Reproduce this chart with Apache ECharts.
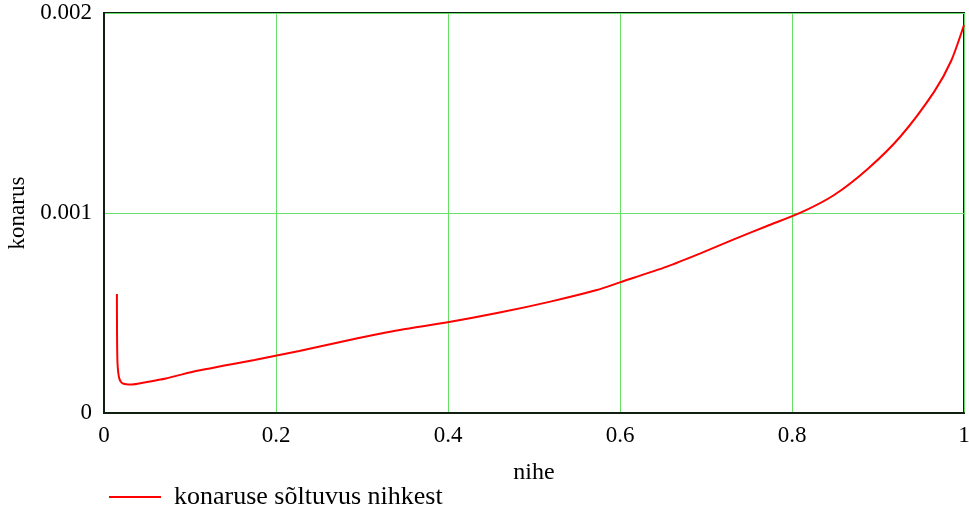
<!DOCTYPE html>
<html>
<head>
<meta charset="utf-8">
<script src="https://cdn.jsdelivr.net/npm/echarts@6/dist/echarts.min.js"></script>
<style>html,body{margin:0;padding:0;background:#fff}#c{width:969px;height:510px}</style>
</head>
<body>
<div id="c"></div>
<script>
const xValues = [0.015, 0.0151, 0.0153, 0.0157, 0.0165, 0.0175, 0.019, 0.021, 0.024, 0.028, 0.033, 0.045, 0.06, 0.072, 0.09, 0.11, 0.13, 0.15, 0.175, 0.198, 0.227, 0.2855, 0.344, 0.398, 0.46, 0.519, 0.573, 0.599, 0.6546, 0.6935, 0.7323, 0.771, 0.81, 0.849, 0.888, 0.9266, 0.9654, 0.985, 1.0];
const yValues = [0.000595, 0.00045, 0.00033, 0.00025, 0.000205, 0.000178, 0.00016, 0.00015, 0.000145, 0.000143, 0.000143, 0.000151, 0.000163, 0.000173, 0.000192, 0.000212, 0.000229, 0.000245, 0.000265, 0.000285, 0.00031, 0.000365, 0.000415, 0.000452, 0.000502, 0.000557, 0.000615, 0.000652, 0.000732, 0.000798, 0.000868, 0.000935, 0.0010015, 0.00109, 0.00122, 0.001385, 0.001607, 0.00176, 0.00194];
const xTicks = [0, 0.2, 0.4, 0.6, 0.8, 1];
const yTicks = [0, 0.001, 0.002];
const seriesName = 'konaruse sõltuvus nihkest';

const chart = echarts.init(document.getElementById('c'));
const font = 'Liberation Serif';
chart.setOption({
  animation: false,
  grid: { left: 104, top: 13, right: 5, bottom: 97, outerBoundsMode: 'none', containLabel: false, show: true, borderColor: '#102010', borderWidth: 2, backgroundColor: 'transparent' },
  legend: {
    left: 104, top: 479, itemWidth: 52, itemHeight: 2, itemGap: 10,
    textStyle: { fontFamily: font, fontSize: 26, color: '#000', padding: [0,0,0,8] },
    data: [{ name: seriesName, icon: 'rect', itemStyle: { color: '#ff0000' } }]
  },
  xAxis: {
    type: 'value', min: 0, max: 1, interval: 0.2,
    name: 'nihe', nameLocation: 'middle', nameGap: 48,
    nameTextStyle: { fontFamily: font, fontSize: 24, color: '#000' },
    axisLine: { show: true, lineStyle: { color: '#102010', width: 2 } },
    axisTick: { show: false },
    axisLabel: { fontFamily: font, fontSize: 23, color: '#000', margin: 11, formatter: v => String(+v.toFixed(1)) },
    splitLine: { show: true, lineStyle: { color: '#66e066', width: 1 } }
  },
  yAxis: {
    type: 'value', min: 0, max: 0.002, interval: 0.001,
    name: 'konarus', nameLocation: 'middle', nameGap: 70,
    nameTextStyle: { fontFamily: font, fontSize: 23, color: '#000' },
    axisLine: { show: true, lineStyle: { color: '#102010', width: 2 } },
    axisTick: { show: false },
    axisLabel: { fontFamily: font, fontSize: 23, color: '#000', margin: 12, formatter: v => v === 0 ? '0' : v.toFixed(3) },
    splitLine: { show: true, lineStyle: { color: '#66e066', width: 1 } }
  },
  series: [{
    name: seriesName, type: 'line', showSymbol: false, smooth: 0.25,
    lineStyle: { color: '#ff0000', width: 2 }, itemStyle: { color: '#ff0000' },
    data: xValues.map((x, i) => [x, yValues[i]])
  }]
});
</script>
</body>
</html>
